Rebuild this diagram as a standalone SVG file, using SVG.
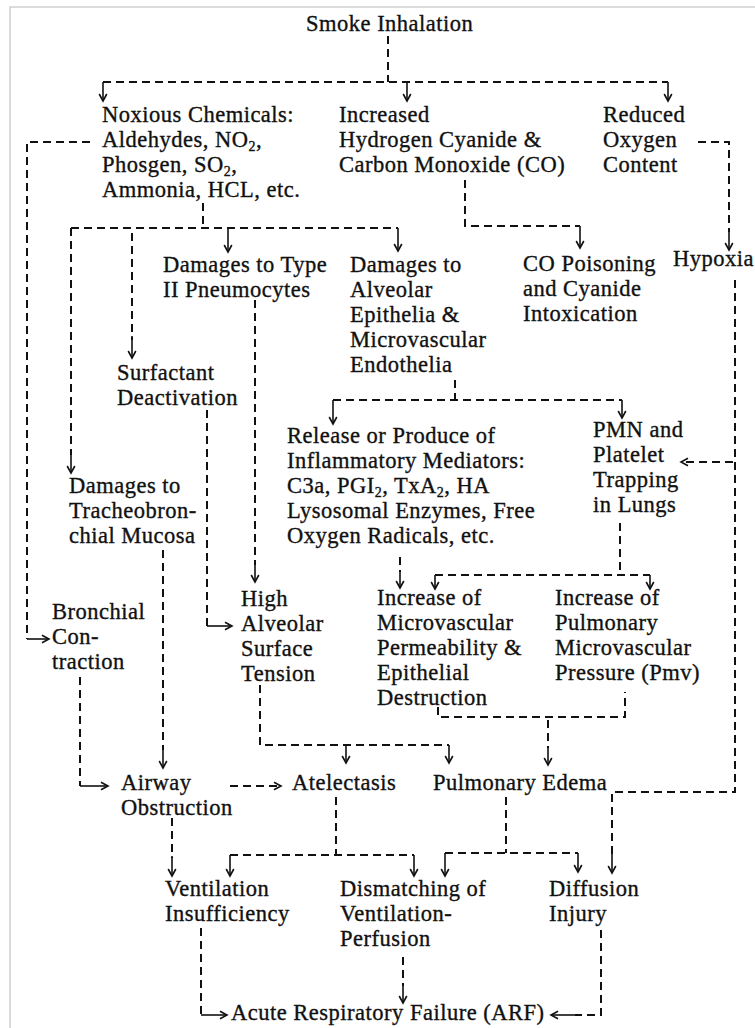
<svg xmlns="http://www.w3.org/2000/svg" width="755" height="1028" viewBox="0 0 755 1028">
<style>
.t{font-family:"Liberation Serif","Times New Roman",serif;font-size:22.5px;letter-spacing:0.5px;fill:#111;stroke:#111;stroke-width:0.35px}
.s{font-size:14px}
.d{fill:none;stroke:#111;stroke-width:2;stroke-dasharray:8 5}
.a{fill:none;stroke:#111;stroke-width:1.6;marker-end:url(#ah)}
.ad{fill:none;stroke:#111;stroke-width:2;stroke-dasharray:8 5;marker-end:url(#ah)}
</style>
<defs>
<marker id="ah" markerUnits="userSpaceOnUse" markerWidth="10" markerHeight="10" refX="8" refY="5" orient="auto">
<path d="M1,1.2 L8,5 L1,8.8" fill="none" stroke="#111" stroke-width="1.6"/>
</marker>
</defs>
<rect width="755" height="1028" fill="#fff"/>
<path d="M10,1028 V7 H755" fill="none" stroke="#cfcfcf" stroke-width="1.5"/>

<g id="connectors">
<path class="d" d="M388,36 V82"/>
<path class="d" d="M103,82 H668"/>
<path class="a" d="M103,82 V101"/>
<path class="a" d="M407,82 V101"/>
<path class="a" d="M668,82 V101"/>
<path class="d" d="M90,142 H27 V639"/>
<path class="a" d="M27,639 H49"/>
<path class="d" d="M465,180 V226 H580"/>
<path class="a" d="M580,226 V248"/>
<path class="d" d="M698,142 H729 V232"/>
<path class="a" d="M729,230 V250"/>
<path class="d" d="M735,280 V792 H612 V855"/>
<path class="a" d="M612,852 V873"/>
<path class="ad" d="M733,462 H681"/>
<path class="d" d="M203,203 V228"/>
<path class="d" d="M71,228 H398"/>
<path class="d" d="M71,228 V455"/>
<path class="a" d="M71,452 V473"/>
<path class="d" d="M132,233 V340"/>
<path class="a" d="M132,336 V358"/>
<path class="a" d="M228,228 V252"/>
<path class="a" d="M398,228 V251"/>
<path class="d" d="M255,300 V565"/>
<path class="a" d="M255,562 V582"/>
<path class="d" d="M207,410 V626"/>
<path class="a" d="M207,626 H232"/>
<path class="d" d="M260,685 V745 H449"/>
<path class="a" d="M346,745 V763"/>
<path class="a" d="M449,745 V763"/>
<path class="d" d="M455,380 V400"/>
<path class="d" d="M333,400 H622"/>
<path class="a" d="M333,400 V424"/>
<path class="a" d="M622,400 V418"/>
<path class="d" d="M400,557 V572"/>
<path class="a" d="M400,570 V588"/>
<path class="d" d="M620,523 V575"/>
<path class="d" d="M435,575 H650"/>
<path class="a" d="M435,575 V589"/>
<path class="a" d="M650,575 V589"/>
<path class="d" d="M438,707 V717 H625 V692"/>
<path class="d" d="M548,720 V748"/>
<path class="a" d="M548,746 V765"/>
<path class="d" d="M163,550 V750"/>
<path class="a" d="M163,748 V768"/>
<path class="d" d="M80,677 V786"/>
<path class="a" d="M80,786 H108"/>
<path class="ad" d="M230,786 H281"/>
<path class="d" d="M336,797 V855"/>
<path class="d" d="M230,855 H414"/>
<path class="a" d="M230,855 V876"/>
<path class="a" d="M414,855 V876"/>
<path class="d" d="M506,797 V853"/>
<path class="d" d="M445,853 H578"/>
<path class="a" d="M445,853 V876"/>
<path class="a" d="M578,853 V872"/>
<path class="d" d="M172,818 V858"/>
<path class="a" d="M172,856 V876"/>
<path class="d" d="M201,928 V1015"/>
<path class="a" d="M201,1015 H227"/>
<path class="d" d="M403,957 V986"/>
<path class="a" d="M403,984 V1003"/>
<path class="d" d="M601,930 V1015 H575"/>
<path class="a" d="M577,1015 H551"/>
</g>

<g id="smoke"><text class="t" x="306" y="31">Smoke Inhalation</text></g>
<g id="noxious"><text class="t"><tspan x="102" y="122">Noxious Chemicals:</tspan><tspan x="102" y="147">Aldehydes, NO<tspan class="s" dy="4">2</tspan><tspan dy="-4">,</tspan></tspan><tspan x="102" y="172">Phosgen, SO<tspan class="s" dy="4">2</tspan><tspan dy="-4">,</tspan></tspan><tspan x="102" y="197">Ammonia, HCL, etc.</tspan></text></g>
<g id="increased"><text class="t"><tspan x="339" y="122">Increased</tspan><tspan x="339" y="147">Hydrogen Cyanide &amp;</tspan><tspan x="339" y="172">Carbon Monoxide (CO)</tspan></text></g>
<g id="reduced"><text class="t"><tspan x="603" y="122">Reduced</tspan><tspan x="603" y="147">Oxygen</tspan><tspan x="603" y="172">Content</tspan></text></g>
<g id="type2"><text class="t"><tspan x="163" y="272">Damages to Type</tspan><tspan x="163" y="297">II Pneumocytes</tspan></text></g>
<g id="alveolar-epi"><text class="t"><tspan x="350" y="272">Damages to</tspan><tspan x="350" y="297">Alveolar</tspan><tspan x="350" y="322">Epithelia &amp;</tspan><tspan x="350" y="347">Microvascular</tspan><tspan x="350" y="372">Endothelia</tspan></text></g>
<g id="co"><text class="t"><tspan x="523" y="271">CO Poisoning</tspan><tspan x="523" y="296">and Cyanide</tspan><tspan x="523" y="321">Intoxication</tspan></text></g>
<g id="hypoxia"><text class="t" x="673" y="266">Hypoxia</text></g>
<g id="surfactant"><text class="t"><tspan x="117" y="380">Surfactant</tspan><tspan x="117" y="405">Deactivation</tspan></text></g>
<g id="release"><text class="t"><tspan x="287" y="443">Release or Produce of</tspan><tspan x="287" y="468">Inflammatory Mediators:</tspan><tspan x="287" y="493">C3a, PGI<tspan class="s" dy="4">2</tspan><tspan dy="-4">, TxA</tspan><tspan class="s" dy="4">2</tspan><tspan dy="-4">, HA</tspan></tspan><tspan x="287" y="518">Lysosomal Enzymes, Free</tspan><tspan x="287" y="543">Oxygen Radicals, etc.</tspan></text></g>
<g id="pmn"><text class="t"><tspan x="593" y="437">PMN and</tspan><tspan x="593" y="462">Platelet</tspan><tspan x="593" y="487">Trapping</tspan><tspan x="593" y="512">in Lungs</tspan></text></g>
<g id="tracheo"><text class="t"><tspan x="69" y="493">Damages to</tspan><tspan x="69" y="518">Tracheobron-</tspan><tspan x="69" y="543">chial Mucosa</tspan></text></g>
<g id="bronchial"><text class="t"><tspan x="52" y="619">Bronchial</tspan><tspan x="52" y="644">Con-</tspan><tspan x="52" y="669">traction</tspan></text></g>
<g id="high"><text class="t"><tspan x="241" y="606">High</tspan><tspan x="241" y="631">Alveolar</tspan><tspan x="241" y="656">Surface</tspan><tspan x="241" y="681">Tension</tspan></text></g>
<g id="permeability"><text class="t"><tspan x="377" y="605">Increase of</tspan><tspan x="377" y="630">Microvascular</tspan><tspan x="377" y="655">Permeability &amp;</tspan><tspan x="377" y="680">Epithelial</tspan><tspan x="377" y="705">Destruction</tspan></text></g>
<g id="pmv"><text class="t"><tspan x="555" y="605">Increase of</tspan><tspan x="555" y="630">Pulmonary</tspan><tspan x="555" y="655">Microvascular</tspan><tspan x="555" y="680">Pressure (Pmv)</tspan></text></g>
<g id="airway"><text class="t"><tspan x="121" y="790">Airway</tspan><tspan x="121" y="815">Obstruction</tspan></text></g>
<g id="atelectasis"><text class="t" x="292" y="790">Atelectasis</text></g>
<g id="edema"><text class="t" x="433" y="790">Pulmonary Edema</text></g>
<g id="ventilation"><text class="t"><tspan x="165" y="896">Ventilation</tspan><tspan x="165" y="921">Insufficiency</tspan></text></g>
<g id="dismatching"><text class="t"><tspan x="340" y="896">Dismatching of</tspan><tspan x="340" y="921">Ventilation-</tspan><tspan x="340" y="946">Perfusion</tspan></text></g>
<g id="diffusion"><text class="t"><tspan x="549" y="896">Diffusion</tspan><tspan x="549" y="921">Injury</tspan></text></g>
<g id="arf"><text class="t" x="231" y="1020">Acute Respiratory Failure (ARF)</text></g>
</svg>
